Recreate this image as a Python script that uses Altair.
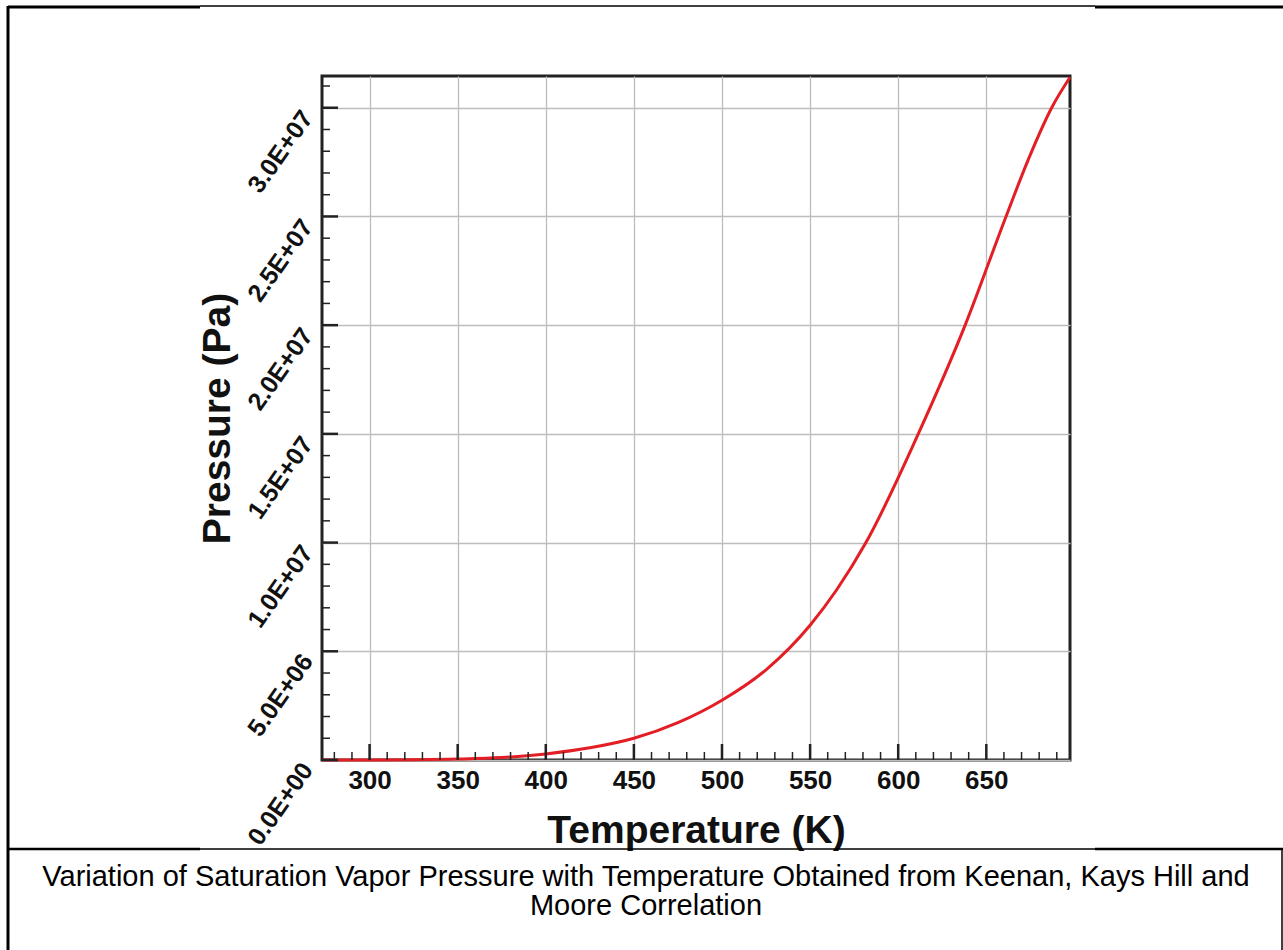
import altair as alt
import pandas as pd

# Saturation vapour pressure of water (Keenan, Keyes, Hill & Moore correlation)
temperature_k = [273.15, 300, 325, 350, 375, 400, 425, 450, 475, 500, 525,
                 550, 565, 581.7, 611.4, 638, 661.2, 674, 687.1, 697.5]
pressure_pa = [6.1e2, 3.5e3, 1.3e4, 4.2e4, 1.1e5, 2.8e5, 5.6e5, 1.0e6, 1.72e6,
               2.75e6, 4.15e6, 6.2e6, 7.82e6, 1.0e7, 1.5e7, 2.0e7, 2.5e7, 2.765e7,
               3.0e7, 3.14e7]

x_major = [300, 350, 400, 450, 500, 550, 600, 650]
x_minor = [t for t in range(280, 700, 10) if t % 50 != 0]
y_major = [0, 5e6, 1e7, 1.5e7, 2e7, 2.5e7, 3e7]
y_major_labels = ["0.0E+00", "5.0E+06", "1.0E+07", "1.5E+07", "2.0E+07", "2.5E+07", "3.0E+07"]
y_minor = [v * 1e6 for v in range(1, 32) if v % 5 != 0]

caption_lines = [
    "Variation of Saturation Vapor Pressure with Temperature Obtained from Keenan, Kays Hill and",
    "Moore Correlation",
]

W, H = 748, 684
FONT = "Liberation Sans"
X_DOMAIN = [273, 697.5]
Y_DOMAIN = [0, 3.146e7]

x_scale = alt.Scale(domain=X_DOMAIN, nice=False, zero=False)
y_scale = alt.Scale(domain=Y_DOMAIN, nice=False, zero=False)

# label text for the pressure axis
label_expr = ""
for v, lab in zip(y_major, y_major_labels):
    label_expr += f"datum.value == {v} ? '{lab}' : "
label_expr += "''"

curve_df = pd.DataFrame({"T": temperature_k, "P": pressure_pa})

curve = alt.Chart(curve_df).mark_line(
    color="#e31e24", strokeWidth=3, interpolate="monotone"
).encode(
    x=alt.X("T:Q", scale=x_scale, axis=alt.Axis(
        values=x_major, format="d", ticks=False, tickSize=0, domain=False,
        grid=True, gridColor="#bdbdbd", gridWidth=1.3,
        labelFont=FONT, labelFontSize=26, labelFontWeight="bold", labelColor="#111",
        labelPadding=7, labelFlush=False, labelOverlap=False,
        title="Temperature (K)", titleFont=FONT, titleFontSize=39,
        titleFontWeight="bold", titleColor="#111",
        titleX=374, titleY=82, titleBaseline="alphabetic", titleAlign="center",
    )),
    y=alt.Y("P:Q", scale=y_scale, axis=alt.Axis(
        values=y_major, labelExpr=label_expr, ticks=False, tickSize=0, domain=False,
        grid=True, gridColor="#bdbdbd", gridWidth=1.3,
        labelFont=FONT, labelFontSize=25, labelFontWeight="bold", labelColor="#111",
        labelAngle=-55, labelAlign="right", labelBaseline="middle",
        labelPadding=15, labelOffset=5, labelFlush=False, labelOverlap=False,
        title="Pressure (Pa)", titleFont=FONT, titleFontSize=39,
        titleFontWeight="bold", titleColor="#111",
        titleX=-93, titleY=342, titleAngle=-90, titleBaseline="alphabetic",
        titleAlign="center",
    )),
)


def x_ticks(values, length, width):
    return alt.Chart(pd.DataFrame({"v": values})).mark_rule(
        color="#222", strokeWidth=width
    ).encode(
        x=alt.X("v:Q", scale=x_scale, axis=None),
        y=alt.value(H), y2=alt.value(H - length),
    )


def y_ticks(values, length, width):
    return alt.Chart(pd.DataFrame({"v": values})).mark_rule(
        color="#222", strokeWidth=width
    ).encode(
        y=alt.Y("v:Q", scale=y_scale, axis=None),
        x=alt.value(0), x2=alt.value(length),
    )


one_row = pd.DataFrame({"k": [0]})


def segment(x1, y1, x2, y2, width):
    # page coordinates, shifted to the plot origin
    return alt.Chart(one_row).mark_rule(color="black", strokeWidth=width).encode(
        x=alt.value(x1 - 322), x2=alt.value(x2 - 322),
        y=alt.value(y1 - 76), y2=alt.value(y2 - 76),
    )


borders = [
    segment(8, 7, 200, 7, 3),
    segment(200, 6, 1095, 6, 1.5),
    segment(1095, 7, 1283, 7, 3),
    segment(8, 6, 8, 950, 3),
    segment(8, 849, 200, 849, 2.5),
    segment(200, 849, 1095, 849, 1.5),
    segment(1095, 849, 1283, 849, 2.5),
    segment(1282, 849, 1282, 950, 1.5),
]

captions = []
for i, line in enumerate(caption_lines):
    captions.append(
        alt.Chart(pd.DataFrame({"caption": [line]})).mark_text(
            font=FONT, fontSize=29, color="black", align="center", baseline="middle"
        ).encode(
            text="caption:N",
            x=alt.value(646 - 322),
            y=alt.value(877 - 76 + 29 * i),
        )
    )

chart = alt.layer(
    curve,
    x_ticks(x_major, 16, 2.5),
    x_ticks(x_minor, 8, 1.5),
    y_ticks(y_major, 16, 2.5),
    y_ticks(y_minor, 8, 1.5),
    *captions,
    *borders,
).resolve_axis(
    x="independent", y="independent"
).properties(
    width=W, height=H,
    padding={"left": 322, "top": 76, "right": 1283 - 322 - W, "bottom": 950 - 76 - H},
    autosize=alt.AutoSizeParams(type="none"),
    background="white",
).configure_view(stroke="#222", strokeWidth=3)

chart.save("out.html", embed_options={"renderer": "svg", "actions": False})
